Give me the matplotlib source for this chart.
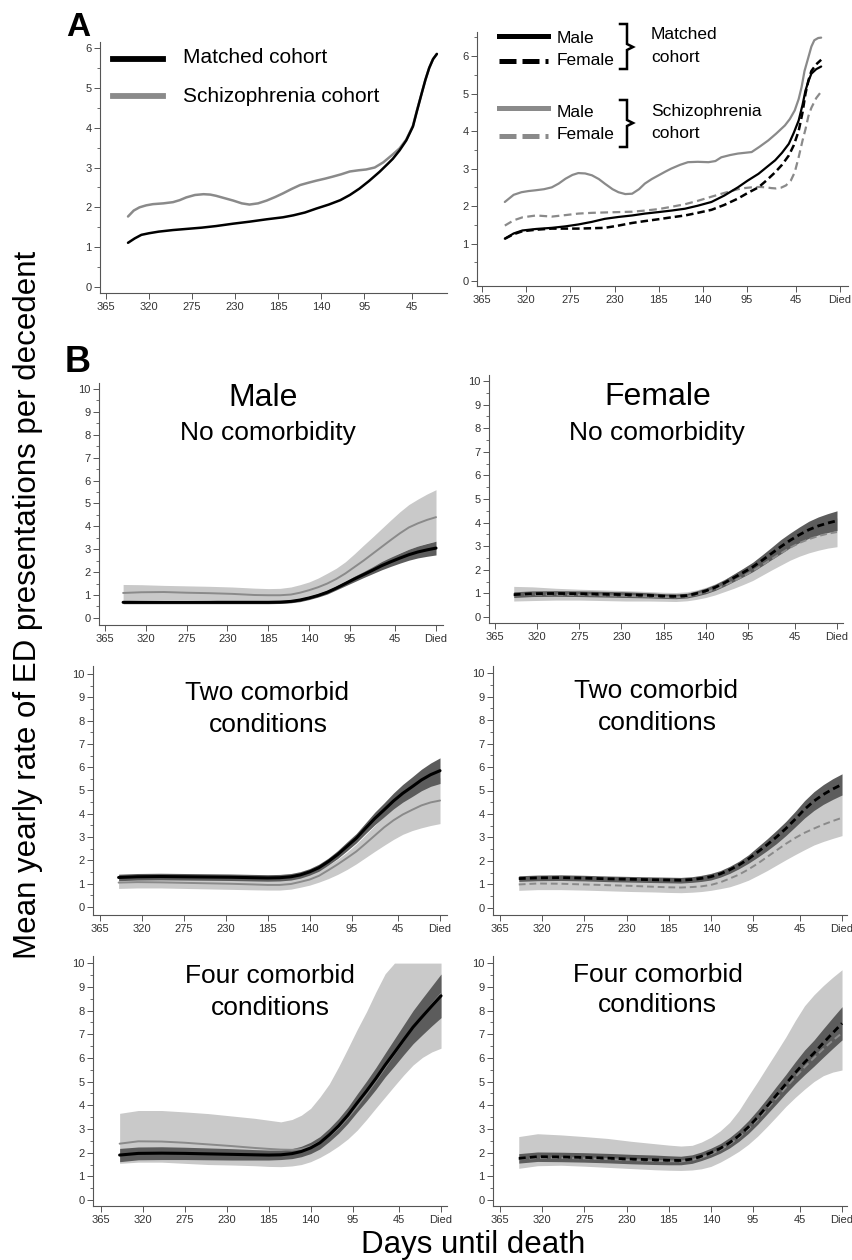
import matplotlib
matplotlib.use("Agg")
import matplotlib.pyplot as plt
from matplotlib.lines import Line2D
from matplotlib.ticker import MultipleLocator

plt.rcParams['font.family'] = ['Liberation Sans', 'DejaVu Sans']

W, H = 853, 1260

# ---------------- Panel A data ----------------
xticks_vals = [365, 320, 275, 230, 185, 140, 95, 45, 0]
xtick_labels = ['365', '320', '275', '230', '185', '140', '95', '45', 'Died']

a_matched_days = [342, 335, 328, 320, 310, 295, 280, 265, 250, 232, 215, 197, 180, 169, 157, 145, 132,
                  120, 110, 100, 90, 79, 70, 65, 58, 51, 44, 40, 35, 31, 27, 23, 19]
a_matched = [1.11, 1.22, 1.31, 1.35, 1.39, 1.43, 1.46, 1.49, 1.53, 1.59, 1.64, 1.70, 1.75, 1.80, 1.87, 1.97, 2.07,
             2.18, 2.31, 2.47, 2.66, 2.89, 3.10, 3.22, 3.43, 3.68, 4.03, 4.40, 4.85, 5.20, 5.50, 5.72, 5.85]
a_schizo_days = [342, 336, 330, 323, 316, 305, 295, 288, 281, 272, 263, 256, 250, 241, 232, 223, 215, 206, 197,
                 188, 180, 171, 162, 153, 145, 136, 128, 119, 110, 101, 93, 84, 75, 65, 58, 51, 44, 40, 35, 31,
                 27, 23, 19]
a_schizo = [1.77, 1.92, 2.00, 2.05, 2.08, 2.10, 2.13, 2.18, 2.25, 2.31, 2.33, 2.32, 2.29, 2.23, 2.17, 2.10, 2.07,
            2.10, 2.17, 2.26, 2.35, 2.46, 2.56, 2.62, 2.67, 2.72, 2.77, 2.83, 2.90, 2.93, 2.95, 3.00, 3.13, 3.33,
            3.48, 3.70, 4.05, 4.42, 4.85, 5.20, 5.50, 5.72, 5.85]

ar_schizo_male_days = [342, 333, 325, 318, 311, 302, 294, 287, 280, 273, 267, 260, 253, 246, 240, 232, 226, 219,
                       212, 205, 199, 192, 185, 178, 172, 163, 155, 145, 134, 127, 121, 112, 104, 97, 90, 82, 73,
                       65, 56, 51, 46, 42, 39, 36, 32, 29, 26, 22, 19]
ar_schizo_male = [2.11, 2.30, 2.37, 2.40, 2.42, 2.45, 2.50, 2.60, 2.73, 2.83, 2.88, 2.87, 2.82, 2.72, 2.60, 2.45,
                  2.37, 2.32, 2.33, 2.45, 2.60, 2.72, 2.82, 2.92, 3.00, 3.10, 3.17, 3.18, 3.17, 3.20, 3.30, 3.36,
                  3.40, 3.42, 3.44, 3.58, 3.75, 3.93, 4.15, 4.32, 4.55, 4.85, 5.17, 5.60, 5.97, 6.25, 6.42, 6.48,
                  6.49]
ar_matched_days = [342, 333, 324, 310, 294, 280, 267, 253, 240, 226, 212, 199, 185, 172, 158, 145, 131, 118, 104,
                   94, 83, 75, 66, 59, 52, 47, 42, 38, 35, 32, 29, 24, 19]
ar_matched_male = [1.13, 1.27, 1.35, 1.39, 1.42, 1.46, 1.51, 1.58, 1.66, 1.71, 1.75, 1.80, 1.84, 1.88, 1.93, 2.01,
                   2.11, 2.28, 2.50, 2.68, 2.86, 3.03, 3.22, 3.42, 3.66, 3.95, 4.28, 4.70, 5.08, 5.33, 5.53, 5.65,
                   5.72]
ar_matched_female = [1.13, 1.25, 1.33, 1.37, 1.40, 1.40, 1.40, 1.41, 1.42, 1.48, 1.55, 1.60, 1.65, 1.70, 1.75,
                     1.82, 1.90, 2.03, 2.20, 2.35, 2.50, 2.68, 2.90, 3.10, 3.35, 3.62, 4.00, 4.50, 5.00, 5.35, 5.60,
                     5.78, 5.90]
ar_schizo_female_days = [342, 333, 324, 310, 294, 280, 267, 253, 240, 226, 212, 199, 185, 172, 158, 145, 131, 118,
                         104, 97, 90, 82, 75, 70, 65, 60, 55, 50, 46, 42, 38, 35, 32, 29, 24, 19]
ar_schizo_female = [1.48, 1.62, 1.70, 1.75, 1.72, 1.76, 1.80, 1.82, 1.83, 1.84, 1.85, 1.88, 1.92, 1.98, 2.05, 2.14,
                    2.25, 2.35, 2.45, 2.48, 2.50, 2.51, 2.50, 2.48, 2.47, 2.49, 2.55, 2.68, 2.90, 3.30, 3.75, 4.05,
                    4.40, 4.62, 4.88, 5.05]

# ---------------- Panel B data ----------------
b_days = [345, 325, 300, 275, 250, 225, 200, 185, 172, 160, 150, 140, 130, 120, 110, 100, 90, 80, 70, 60, 50, 40,
          30, 20, 10, 0]

m1_matched = [0.68, 0.68, 0.68, 0.68, 0.68, 0.68, 0.68, 0.68, 0.69, 0.72, 0.78, 0.87, 0.98, 1.12, 1.30, 1.50, 1.70,
              1.89, 2.08, 2.28, 2.45, 2.61, 2.76, 2.88, 2.97, 3.05]
m1_matched_lo = [0.62, 0.62, 0.62, 0.62, 0.62, 0.62, 0.62, 0.62, 0.63, 0.66, 0.71, 0.80, 0.91, 1.04, 1.22, 1.40,
                 1.58, 1.76, 1.93, 2.10, 2.25, 2.39, 2.52, 2.62, 2.69, 2.75]
m1_matched_hi = [0.74, 0.74, 0.74, 0.74, 0.74, 0.74, 0.74, 0.74, 0.75, 0.78, 0.85, 0.94, 1.06, 1.20, 1.39, 1.60,
                 1.82, 2.02, 2.23, 2.46, 2.65, 2.83, 3.00, 3.14, 3.25, 3.35]
m1_schizo = [1.09, 1.12, 1.13, 1.10, 1.08, 1.05, 1.00, 0.99, 0.99, 1.02, 1.10, 1.21, 1.34, 1.50, 1.70, 1.94, 2.22,
             2.50, 2.80, 3.10, 3.40, 3.69, 3.95, 4.13, 4.28, 4.40]
m1_schizo_lo = [0.75, 0.78, 0.80, 0.80, 0.78, 0.72, 0.65, 0.63, 0.63, 0.68, 0.75, 0.85, 0.96, 1.10, 1.26, 1.45,
                1.65, 1.88, 2.13, 2.40, 2.64, 2.84, 3.00, 3.14, 3.26, 3.35]
m1_schizo_hi = [1.46, 1.45, 1.42, 1.40, 1.38, 1.35, 1.30, 1.28, 1.29, 1.35, 1.45, 1.57, 1.74, 1.95, 2.17, 2.45,
                2.80, 3.17, 3.53, 3.90, 4.27, 4.63, 4.95, 5.19, 5.41, 5.60]

f1_matched = [0.95, 0.99, 1.00, 0.99, 0.97, 0.95, 0.92, 0.89, 0.88, 0.91, 1.00, 1.11, 1.26, 1.45, 1.67, 1.89, 2.12,
              2.40, 2.69, 2.98, 3.25, 3.49, 3.70, 3.86, 3.98, 4.08]
f1_matched_lo = [0.83, 0.87, 0.88, 0.87, 0.85, 0.83, 0.81, 0.79, 0.78, 0.81, 0.89, 0.99, 1.13, 1.31, 1.51, 1.71,
                 1.92, 2.17, 2.43, 2.68, 2.94, 3.16, 3.34, 3.48, 3.58, 3.66]
f1_matched_hi = [1.07, 1.11, 1.12, 1.11, 1.09, 1.07, 1.03, 0.99, 0.98, 1.01, 1.11, 1.23, 1.39, 1.59, 1.83, 2.07,
                 2.32, 2.63, 2.95, 3.28, 3.56, 3.82, 4.06, 4.24, 4.38, 4.50]
f1_schizo = [0.92, 0.95, 0.95, 0.94, 0.92, 0.90, 0.87, 0.85, 0.84, 0.87, 0.95, 1.05, 1.18, 1.35, 1.53, 1.73, 1.95,
             2.20, 2.45, 2.70, 2.94, 3.14, 3.30, 3.43, 3.53, 3.60]
f1_schizo_lo = [0.68, 0.70, 0.72, 0.72, 0.70, 0.68, 0.68, 0.67, 0.66, 0.69, 0.75, 0.83, 0.94, 1.08, 1.22, 1.38,
                1.55, 1.77, 1.99, 2.20, 2.41, 2.58, 2.72, 2.83, 2.92, 2.98]
f1_schizo_hi = [1.30, 1.28, 1.22, 1.18, 1.15, 1.12, 1.08, 1.05, 1.04, 1.07, 1.15, 1.26, 1.41, 1.60, 1.81, 2.04,
                2.30, 2.58, 2.87, 3.15, 3.42, 3.66, 3.85, 3.99, 4.11, 4.20]

m2_matched = [1.27, 1.30, 1.31, 1.30, 1.29, 1.28, 1.26, 1.25, 1.26, 1.30, 1.38, 1.51, 1.69, 1.95, 2.25, 2.60, 2.95,
              3.38, 3.80, 4.17, 4.55, 4.88, 5.16, 5.45, 5.68, 5.85]
m2_matched_lo = [1.13, 1.16, 1.17, 1.16, 1.15, 1.14, 1.12, 1.11, 1.12, 1.16, 1.24, 1.37, 1.54, 1.80, 2.08, 2.41,
                 2.75, 3.15, 3.53, 3.87, 4.21, 4.50, 4.74, 4.99, 5.18, 5.30]
m2_matched_hi = [1.41, 1.44, 1.45, 1.44, 1.43, 1.42, 1.40, 1.39, 1.40, 1.44, 1.52, 1.65, 1.84, 2.10, 2.42, 2.79,
                 3.15, 3.61, 4.07, 4.47, 4.89, 5.26, 5.58, 5.91, 6.18, 6.40]
m2_schizo = [1.05, 1.07, 1.06, 1.04, 1.02, 1.00, 0.97, 0.95, 0.95, 0.99, 1.08, 1.18, 1.34, 1.58, 1.83, 2.10, 2.38,
             2.72, 3.07, 3.42, 3.72, 3.97, 4.17, 4.36, 4.49, 4.57]
m2_schizo_lo = [0.80, 0.82, 0.82, 0.80, 0.78, 0.76, 0.74, 0.73, 0.73, 0.77, 0.85, 0.94, 1.07, 1.22, 1.40, 1.61,
                1.85, 2.12, 2.39, 2.65, 2.90, 3.12, 3.28, 3.40, 3.50, 3.58]
m2_schizo_hi = [1.30, 1.30, 1.30, 1.28, 1.25, 1.22, 1.18, 1.16, 1.15, 1.20, 1.30, 1.42, 1.60, 1.80, 2.05, 2.35,
                2.70, 3.10, 3.50, 3.90, 4.27, 4.62, 4.90, 5.15, 5.36, 5.55]

f2_matched = [1.25, 1.28, 1.29, 1.27, 1.24, 1.22, 1.20, 1.19, 1.18, 1.21, 1.26, 1.33, 1.45, 1.62, 1.83, 2.08, 2.38,
              2.69, 3.02, 3.38, 3.78, 4.20, 4.55, 4.83, 5.06, 5.26]
f2_matched_lo = [1.13, 1.16, 1.17, 1.15, 1.12, 1.10, 1.08, 1.07, 1.06, 1.09, 1.13, 1.19, 1.31, 1.47, 1.67, 1.90,
                 2.16, 2.44, 2.74, 3.08, 3.45, 3.83, 4.15, 4.41, 4.62, 4.81]
f2_matched_hi = [1.37, 1.40, 1.41, 1.39, 1.36, 1.34, 1.32, 1.31, 1.30, 1.33, 1.39, 1.47, 1.59, 1.77, 1.99, 2.26,
                 2.60, 2.94, 3.30, 3.68, 4.11, 4.57, 4.95, 5.25, 5.50, 5.71]
f2_schizo = [1.00, 1.04, 1.03, 1.00, 0.97, 0.94, 0.90, 0.88, 0.87, 0.89, 0.92, 0.98, 1.09, 1.25, 1.42, 1.64, 1.89,
             2.17, 2.45, 2.73, 2.98, 3.20, 3.38, 3.55, 3.70, 3.84]
f2_schizo_lo = [0.75, 0.78, 0.78, 0.76, 0.73, 0.70, 0.68, 0.66, 0.65, 0.67, 0.70, 0.75, 0.82, 0.90, 1.03, 1.18,
                1.38, 1.59, 1.82, 2.05, 2.27, 2.48, 2.68, 2.83, 2.96, 3.08]
f2_schizo_hi = [1.28, 1.30, 1.30, 1.27, 1.24, 1.20, 1.15, 1.11, 1.10, 1.13, 1.18, 1.26, 1.38, 1.55, 1.77, 2.03,
                2.35, 2.68, 3.02, 3.35, 3.65, 3.93, 4.20, 4.44, 4.65, 4.85]

m4_matched = [1.90, 1.97, 1.98, 1.97, 1.95, 1.93, 1.91, 1.90, 1.91, 1.96, 2.05, 2.20, 2.42, 2.75, 3.13, 3.58, 4.10,
              4.60, 5.13, 5.70, 6.23, 6.77, 7.30, 7.75, 8.19, 8.62]
m4_matched_lo = [1.62, 1.70, 1.71, 1.71, 1.70, 1.69, 1.69, 1.69, 1.71, 1.75, 1.83, 1.96, 2.16, 2.47, 2.82, 3.24,
                 3.72, 4.18, 4.67, 5.20, 5.66, 6.14, 6.60, 6.98, 7.35, 7.70]
m4_matched_hi = [2.18, 2.24, 2.25, 2.23, 2.20, 2.17, 2.13, 2.11, 2.11, 2.17, 2.27, 2.44, 2.68, 3.03, 3.44, 3.92,
                 4.48, 5.02, 5.59, 6.20, 6.80, 7.40, 8.00, 8.52, 9.03, 9.54]
m4_schizo = [2.38, 2.48, 2.47, 2.42, 2.35, 2.28, 2.20, 2.16, 2.13, 2.12, 2.15, 2.26, 2.45, 2.70, 3.05, 3.48, 3.95,
             4.48, 5.03, 5.60, 6.17, 6.73, 7.30, 7.77, 8.24, 8.70]
m4_schizo_lo = [1.55, 1.60, 1.60, 1.55, 1.50, 1.48, 1.45, 1.42, 1.41, 1.44, 1.50, 1.62, 1.80, 2.02, 2.28, 2.58,
                2.95, 3.40, 3.88, 4.35, 4.82, 5.28, 5.70, 6.02, 6.25, 6.41]
m4_schizo_hi = [3.66, 3.78, 3.78, 3.72, 3.65, 3.55, 3.45, 3.37, 3.30, 3.40, 3.58, 3.87, 4.35, 4.90, 5.62, 6.40,
                7.20, 7.95, 8.78, 9.55, 10.0, 10.0, 10.0, 10.0, 10.0, 10.0]

f4_matched = [1.76, 1.83, 1.82, 1.80, 1.77, 1.73, 1.70, 1.68, 1.67, 1.73, 1.85, 2.00, 2.18, 2.42, 2.72, 3.08, 3.50,
              3.96, 4.43, 4.90, 5.37, 5.81, 6.20, 6.63, 7.05, 7.46]
f4_matched_lo = [1.56, 1.63, 1.62, 1.60, 1.57, 1.53, 1.50, 1.49, 1.49, 1.55, 1.67, 1.81, 1.98, 2.20, 2.48, 2.81,
                 3.20, 3.63, 4.06, 4.50, 4.91, 5.29, 5.65, 6.03, 6.40, 6.76]
f4_matched_hi = [1.96, 2.03, 2.02, 2.00, 1.97, 1.93, 1.90, 1.87, 1.85, 1.91, 2.03, 2.19, 2.38, 2.64, 2.96, 3.35,
                 3.80, 4.29, 4.80, 5.30, 5.83, 6.33, 6.75, 7.23, 7.70, 8.16]
f4_schizo = [1.72, 1.78, 1.78, 1.76, 1.73, 1.69, 1.66, 1.64, 1.63, 1.69, 1.80, 1.94, 2.12, 2.36, 2.65, 3.00, 3.40,
             3.85, 4.30, 4.75, 5.19, 5.61, 6.00, 6.38, 6.73, 7.05]
f4_schizo_lo = [1.34, 1.45, 1.47, 1.43, 1.38, 1.33, 1.28, 1.26, 1.25, 1.27, 1.32, 1.42, 1.60, 1.82, 2.06, 2.35,
                2.70, 3.10, 3.52, 3.95, 4.33, 4.68, 5.00, 5.25, 5.40, 5.49]
f4_schizo_hi = [2.68, 2.80, 2.75, 2.68, 2.60, 2.48, 2.38, 2.32, 2.28, 2.31, 2.45, 2.65, 2.92, 3.28, 3.78, 4.40,
                5.00, 5.63, 6.25, 6.88, 7.57, 8.20, 8.66, 9.05, 9.40, 9.72]

# ---------------- styling ----------------
BLACK = '#000000'
GRAY_LINE = '#8a8a8a'
LIGHT_BAND = '#c9c9c9'
DARK_BAND = '#5c5c5c'
SPINE = '#555555'
TICKC = '#333333'

fig = plt.figure(figsize=(W / 100, H / 100), dpi=100)
fig.patch.set_facecolor('white')


def px_axes(l, t, r, b):
    return fig.add_axes([l / W, 1 - b / H, (r - l) / W, (b - t) / H])


def fxy(x, y):
    return x / W, 1 - y / H


def style(ax, xlim, ylim, ymajor, yminor, show_died=True):
    ax.set_xlim(*xlim)
    ax.set_ylim(*ylim)
    for s in ['top', 'right']:
        ax.spines[s].set_visible(False)
    for s in ['left', 'bottom']:
        ax.spines[s].set_color(SPINE)
        ax.spines[s].set_linewidth(0.8)
    ax.yaxis.set_major_locator(MultipleLocator(ymajor))
    ax.yaxis.set_minor_locator(MultipleLocator(yminor))
    if show_died:
        ax.set_xticks(xticks_vals)
        ax.set_xticklabels(xtick_labels)
    else:
        ax.set_xticks(xticks_vals[:-1])
        ax.set_xticklabels(xtick_labels[:-1])
    ax.tick_params(axis='both', which='major', labelsize=8, colors=SPINE,
                   labelcolor=TICKC, length=4, width=0.7, direction='out')
    ax.tick_params(axis='y', which='minor', length=2, width=0.6, colors=SPINE)
    ax.tick_params(axis='x', pad=2.5)
    ax.tick_params(axis='y', pad=2)
    ax.set_facecolor('none')


LKW = dict(solid_joinstyle='round', solid_capstyle='round', dash_joinstyle='round')

# ---------------- Panel A left ----------------
axA1 = px_axes(100, 42, 447, 293)
axA1.plot(a_schizo_days, a_schizo, color=GRAY_LINE, lw=1.8, **LKW)
axA1.plot(a_matched_days, a_matched, color=BLACK, lw=1.8, **LKW)
style(axA1, (371.3, 8.4), (-0.15, 6.15), 1, 0.5, show_died=False)

# ---------------- Panel A right ----------------
axA2 = px_axes(477, 32, 848, 286)
axA2.plot(ar_schizo_male_days, ar_schizo_male, color=GRAY_LINE, lw=1.6, **LKW)
axA2.plot(ar_schizo_female_days, ar_schizo_female, color=GRAY_LINE, lw=1.6, dashes=(3.5, 2), **LKW)
axA2.plot(ar_matched_days, ar_matched_male, color=BLACK, lw=1.6, **LKW)
axA2.plot(ar_matched_days, ar_matched_female, color=BLACK, lw=1.8, dashes=(3, 1.6), **LKW)
style(axA2, (370.4, -8.4), (-0.13, 6.64), 1, 0.5)


# ---------------- Panel B ----------------
def bpanel(box, xlim, ylim, matched, mlo, mhi, schizo, slo, shi, female):
    ax = px_axes(*box)
    ax.fill_between(b_days, slo, shi, color=LIGHT_BAND, lw=0, zorder=1)
    ax.fill_between(b_days, mlo, mhi, color=DARK_BAND, lw=0, zorder=2)
    if female:
        ax.plot(b_days, schizo, color=GRAY_LINE, lw=1.4, dashes=(3.5, 2), zorder=3, **LKW)
        ax.plot(b_days, matched, color=BLACK, lw=2.0, dashes=(2.5, 1.5), zorder=4, **LKW)
    else:
        ax.plot(b_days, schizo, color=GRAY_LINE, lw=1.4, zorder=3, **LKW)
        ax.plot(b_days, matched, color=BLACK, lw=2.2, zorder=4, **LKW)
    style(ax, xlim, ylim, 1, 0.5)
    return ax


bpanel((99, 383, 443, 625), (371.6, -7.7), (-0.31, 10.26),
       m1_matched, m1_matched_lo, m1_matched_hi, m1_schizo, m1_schizo_lo, m1_schizo_hi, False)
bpanel((489, 375, 843, 623), (371.4, -6.4), (-0.25, 10.25),
       f1_matched, f1_matched_lo, f1_matched_hi, f1_schizo, f1_schizo_lo, f1_schizo_hi, True)
bpanel((93, 666, 447, 915), (372.5, -7.5), (-0.34, 10.34),
       m2_matched, m2_matched_lo, m2_matched_hi, m2_schizo, m2_schizo_lo, m2_schizo_hi, False)
bpanel((493, 666, 847, 915), (372.5, -5.3), (-0.30, 10.30),
       f2_matched, f2_matched_lo, f2_matched_hi, f2_schizo, f2_schizo_lo, f2_schizo_hi, True)
bpanel((93, 956, 447, 1206), (373.6, -6.4), (-0.25, 10.30),
       m4_matched, m4_matched_lo, m4_matched_hi, m4_schizo, m4_schizo_lo, m4_schizo_hi, False)
bpanel((493, 956, 847, 1206), (372.5, -5.3), (-0.25, 10.30),
       f4_matched, f4_matched_lo, f4_matched_hi, f4_schizo, f4_schizo_lo, f4_schizo_hi, True)


# ---------------- texts ----------------
def ftext(x, y, s, size, ha='center', va='baseline', weight='normal', rotation=0):
    fx, fy = fxy(x, y)
    fig.text(fx, fy, s, fontsize=size, ha=ha, va=va, fontweight=weight,
             rotation=rotation, color='black')


def fline(x1, x2, y1, y2, color, lw, dashes=None):
    a, b = fxy(x1, y1)
    c, d = fxy(x2, y2)
    ln = Line2D([a, c], [b, d], transform=fig.transFigure, color=color, lw=lw)
    if dashes:
        ln.set_dashes(dashes)
    fig.add_artist(ln)


def fpath(xs, ys, lw=1.8):
    pts = [fxy(x, y) for x, y in zip(xs, ys)]
    fig.add_artist(Line2D([p[0] for p in pts], [p[1] for p in pts],
                          transform=fig.transFigure, color='black', lw=lw,
                          solid_joinstyle='miter'))


ftext(78, 27, 'A', 24, va='center', weight='bold')
ftext(78, 363, 'B', 26, va='center', weight='bold')

# Panel A left legend
fline(113, 163, 59, 59, BLACK, 4.2)
fline(113, 163, 96, 96, GRAY_LINE, 4.2)
ftext(183, 63, 'Matched cohort', 15, ha='left')
ftext(183, 102, 'Schizophrenia cohort', 15, ha='left')

# Panel A right legend
fline(499, 548, 36, 36, BLACK, 3.6)
fline(499, 548, 61, 61, BLACK, 3.6, dashes=(3.4, 1.2))
fline(499, 548, 108, 108, GRAY_LINE, 3.6)
fline(499, 548, 136, 136, GRAY_LINE, 3.6, dashes=(3.4, 1.2))
ftext(557, 43, 'Male', 12.5, ha='left')
ftext(557, 65, 'Female', 12.5, ha='left')
ftext(557, 117, 'Male', 12.5, ha='left')
ftext(557, 139, 'Female', 12.5, ha='left')
ftext(651, 39, 'Matched', 12.5, ha='left')
ftext(651, 62, 'cohort', 12.5, ha='left')
ftext(651, 116, 'Schizophrenia', 12.5, ha='left')
ftext(651, 138, 'cohort', 12.5, ha='left')
fpath([620, 627, 627, 633, 627, 627, 620], [24, 24, 44, 47, 50, 69, 69])
fpath([620, 627, 627, 633, 627, 627, 620], [100, 100, 120, 123, 126, 147, 147])

# Panel B titles
ftext(263, 406, 'Male', 23)
ftext(268, 440, 'No comorbidity', 19)
ftext(658, 405, 'Female', 23)
ftext(657, 440, 'No comorbidity', 19)
ftext(267, 700, 'Two comorbid', 19)
ftext(268, 732, 'conditions', 19)
ftext(656, 698, 'Two comorbid', 19)
ftext(657, 730, 'conditions', 19)
ftext(270, 983, 'Four comorbid', 19)
ftext(270, 1015, 'conditions', 19)
ftext(658, 982, 'Four comorbid', 19)
ftext(657, 1012, 'conditions', 19)

# axis labels
ftext(28, 605, 'Mean yearly rate of ED presentations per decedent', 22.5,
      va='center', rotation=90)
ftext(473, 1253, 'Days until death', 22.5, va='baseline')

fig.savefig('out.png', dpi=100, facecolor='white')
